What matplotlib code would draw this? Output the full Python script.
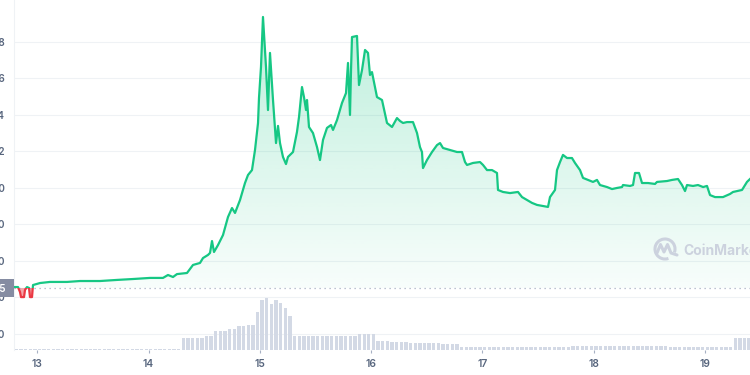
import numpy as np
import matplotlib.pyplot as plt
from matplotlib.patches import Rectangle, Arc, Polygon

plt.rcParams['font.family'] = ['Inter', 'DejaVu Sans']

# hours since the first point (12th, 19:00)
START_HOUR = 19
hours = [0.00, 0.86, 1.29, 1.51, 2.16, 2.37, 2.80, 3.23, 3.45, 3.88,
         4.10, 5.61, 7.76, 11.43, 14.23, 18.54, 22.21, 25.66, 29.32, 32.12,
         33.20, 34.28, 35.14, 37.30, 38.59, 40.10, 40.75, 41.83, 42.26, 42.69,
         43.12, 43.98, 45.06, 46.14, 47.00, 47.65, 48.73, 49.80, 50.45, 51.31,
         51.96, 52.61, 52.82, 53.25, 53.68, 54.33, 54.76, 55.19, 55.84, 56.49,
         56.92, 57.35, 57.99, 58.64, 59.07, 60.15, 61.01, 61.45, 62.09, 62.52,
         62.96, 63.17, 63.60, 64.46, 65.33, 65.97, 66.62, 67.48, 68.35, 68.78,
         69.64, 70.72, 71.58, 72.01, 72.44, 72.66, 72.87, 73.95, 74.38, 75.03,
         75.68, 76.32, 76.75, 77.18, 77.83, 78.26, 79.34, 80.42, 81.50, 82.57,
         83.22, 83.87, 84.73, 86.02, 86.89, 87.53, 87.96, 88.18, 89.04, 90.12,
         91.20, 91.85, 92.49, 94.00, 95.51, 96.59, 97.24, 97.67, 98.96, 100.47,
         101.12, 101.98, 103.06, 104.13, 104.35, 105.43, 106.94, 108.66, 109.53, 110.60,
         111.68, 112.76, 114.05, 115.13, 115.56, 116.64, 117.07, 117.72, 118.36, 119.23,
         120.30, 120.95, 122.03, 122.68, 123.75, 124.83, 125.69, 126.34, 127.85, 128.93,
         130.01, 131.09, 131.30, 132.81, 133.46, 133.89, 134.75, 135.40, 136.69, 138.20,
         138.63, 140.79, 141.86, 143.16, 144.02, 144.67, 145.10, 146.39, 147.47, 148.57,
         149.41, 150.06, 151.14, 152.86, 154.37, 155.02, 156.96, 158.03, 158.68]

price = [0.457, 0.457, 0.430, 0.402, 0.402, 0.441, 0.457, 0.452, 0.402, 0.402,
         0.468, 0.479, 0.485, 0.485, 0.490, 0.490, 0.496, 0.501, 0.507, 0.507,
         0.523, 0.512, 0.528, 0.534, 0.578, 0.589, 0.616, 0.633, 0.644, 0.709,
         0.649, 0.687, 0.742, 0.841, 0.890, 0.863, 0.934, 1.027, 1.071, 1.098,
         1.208, 1.356, 1.493, 1.663, 1.937, 1.663, 1.427, 1.740, 1.482, 1.246,
         1.340, 1.246, 1.170, 1.131, 1.170, 1.197, 1.307, 1.389, 1.553, 1.498,
         1.427, 1.482, 1.334, 1.301, 1.224, 1.153, 1.263, 1.329, 1.345, 1.318,
         1.372, 1.466, 1.520, 1.685, 1.400, 1.646, 1.827, 1.833, 1.564, 1.646,
         1.756, 1.740, 1.619, 1.635, 1.553, 1.498, 1.482, 1.356, 1.334, 1.383,
         1.367, 1.356, 1.361, 1.361, 1.301, 1.224, 1.197, 1.109, 1.153, 1.197,
         1.235, 1.246, 1.219, 1.208, 1.197, 1.197, 1.142, 1.126, 1.137, 1.142,
         1.126, 1.098, 1.098, 1.082, 0.989, 0.978, 0.972, 0.978, 0.950, 0.934,
         0.918, 0.907, 0.901, 0.896, 0.950, 0.989, 1.098, 1.142, 1.181, 1.164,
         1.164, 1.137, 1.098, 1.055, 1.044, 1.033, 1.044, 1.016, 1.005, 0.994,
         1.000, 1.005, 1.016, 1.011, 1.016, 1.082, 1.082, 1.027, 1.027, 1.022,
         1.033, 1.038, 1.044, 1.049, 1.016, 0.983, 1.016, 1.011, 1.016, 1.005,
         1.011, 0.961, 0.950, 0.950, 0.967, 0.978, 0.989, 1.033, 1.049]

ref_price = 0.452
ref_label = '0.45'

# hourly volume, millions
volume = [0.15, 0.15, 0.15, 0.15, 0.15, 0.15, 0.15, 0.15, 0.15, 0.15, 0.15, 0.15,
          0.15, 0.15, 0.15, 0.15, 0.15, 0.15, 0.15, 0.15, 0.15, 0.15, 0.15, 0.15,
          0.15, 0.15, 0.15, 0.15, 0.15, 0.15, 0.15, 0.15, 0.15, 0.15, 0.15, 0.15,
          1.2, 1.2, 1.2, 1.2, 1.2, 1.4, 1.4, 1.9, 1.9, 1.9, 2.1, 2.1,
          2.4, 2.4, 2.5, 2.5, 3.8, 5.0, 5.2, 4.6, 5.0, 4.7, 4.2, 3.4,
          1.4, 1.4, 1.4, 1.4, 1.4, 1.4, 1.4, 1.4, 1.4, 1.4, 1.4, 1.4, 1.4, 1.4,
          1.6, 1.6, 1.6, 1.6, 0.9, 0.9, 0.9, 0.8, 0.8, 0.8, 0.8,
          0.7, 0.7, 0.7, 0.7, 0.7, 0.7, 0.7, 0.6, 0.6, 0.6, 0.6,
          0.3, 0.3, 0.3, 0.3, 0.3, 0.3, 0.3, 0.3, 0.3, 0.3, 0.3, 0.3,
          0.3, 0.3, 0.3, 0.3, 0.3, 0.3, 0.3, 0.3, 0.3, 0.3, 0.3, 0.3,
          0.4, 0.4, 0.4, 0.4, 0.4, 0.4, 0.4, 0.4, 0.4, 0.4, 0.4, 0.4,
          0.4, 0.4, 0.4, 0.4, 0.4, 0.4, 0.4, 0.4, 0.4,
          0.3, 0.3, 0.3, 0.3, 0.3, 0.3, 0.3, 0.3, 0.3, 0.3, 0.3, 0.3, 0.3, 0.3,
          1.2, 1.2, 1.2, 1.2]

price_ticks = [0.2, 0.4, 0.6, 0.8, 1.0, 1.2, 1.4, 1.6, 1.8]
price_tick_labels = ['0.20', '0.40', '0.60', '0.80', '1.0', '1.2', '1.4', '1.6', '1.8']
days = [13, 14, 15, 16, 17, 18, 19]

green = '#16c784'
red = '#ea3943'
grey_txt = '#58667e'

t = np.array(hours)
p = np.array(price)

fig = plt.figure(figsize=(7.5, 3.75), dpi=100)
ax = fig.add_axes([14 / 750, 25 / 375, 736 / 750, 350 / 375])

# gradient under the line
top = np.maximum(p, ref_price)
verts = np.column_stack([np.r_[t[0], t, t[-1]], np.r_[ref_price, top, ref_price]])
clip = Polygon(verts, closed=True, facecolor='none', edgecolor='none')
ax.add_patch(clip)
grad = np.zeros((256, 1, 4))
grad[..., 0] = 22 / 255
grad[..., 1] = 199 / 255
grad[..., 2] = 132 / 255
grad[:, 0, 3] = np.linspace(0.03, 0.30, 256)
im = ax.imshow(grad, extent=[t[0], t[-1], ref_price, 2.03], origin='lower',
               aspect='auto', zorder=2, interpolation='bilinear')
im.set_clip_path(clip)

ax.fill_between(t, p, ref_price, where=p < ref_price, interpolate=True,
                color=red, alpha=0.45, lw=0, zorder=2)

above = Rectangle((-10, ref_price), 300, 10, transform=ax.transData)
below = Rectangle((-10, -10), 300, 10 + ref_price, transform=ax.transData)
g, = ax.plot(t, p, color=green, lw=1.6, solid_joinstyle='round', zorder=4)
g.set_clip_path(above)
r, = ax.plot(t, p, color=red, lw=1.6, solid_joinstyle='round', zorder=4)
r.set_clip_path(below)

ax.axhline(ref_price, color='#a6b0c3', lw=0.9, ls=(0, (1, 3)), zorder=3)

ax.set_xlim(0, 158.68)
ax.set_ylim(0.112, 2.03)

ax.set_yticks(price_ticks)
ax.set_yticklabels(price_tick_labels)
ax.set_xticks([(d - 12) * 24 - START_HOUR for d in days])
ax.set_xticklabels([str(d) for d in days])
ax.tick_params(axis='y', length=0, pad=6.5, labelsize=7.2, labelcolor=grey_txt)
ax.tick_params(axis='x', length=2.5, width=0.8, color='#a6b0c3', pad=4,
               labelsize=7.4, labelcolor=grey_txt)
for lbl in ax.get_xticklabels() + ax.get_yticklabels():
    lbl.set_fontweight('semibold')
ax.yaxis.grid(True, color='#eff2f5', lw=0.8)
ax.set_axisbelow(True)
for s in ['top', 'right', 'bottom']:
    ax.spines[s].set_visible(False)
ax.spines['left'].set_color('#eff2f5')
ax.spines['left'].set_linewidth(0.8)

# volume bars
vax = ax.twinx()
vax.set_ylim(0, 35)
vax.bar(np.arange(len(volume)) + 0.5, volume, width=0.72, color='#d3d9e5', lw=0)
vax.axis('off')

# overlay for watermark and price tag (pixel coordinates)
ov = fig.add_axes([0, 0, 1, 1])
ov.set_xlim(0, 750)
ov.set_ylim(375, 0)
ov.axis('off')
wm = '#ccd2de'
ov.add_patch(Arc((665, 249), 20, 20, theta1=70, theta2=380, lw=2.2, color=wm))
ov.plot([657, 660.5, 664, 667.5, 671, 677], [253, 244.5, 252, 244.5, 253, 255],
        color=wm, lw=2.2, solid_joinstyle='round', solid_capstyle='round')
ov.text(683, 251, 'CoinMarketCap', fontsize=10, fontweight='bold', color=wm,
        ha='left', va='center')

ov.add_patch(Rectangle((0, 279), 14, 18, color='#858ca2', lw=0))
ov.text(5.5, 288.5, ref_label, fontsize=7.2, fontweight='semibold', color='white',
        ha='right', va='center')

fig.savefig('out.png', dpi=100)
